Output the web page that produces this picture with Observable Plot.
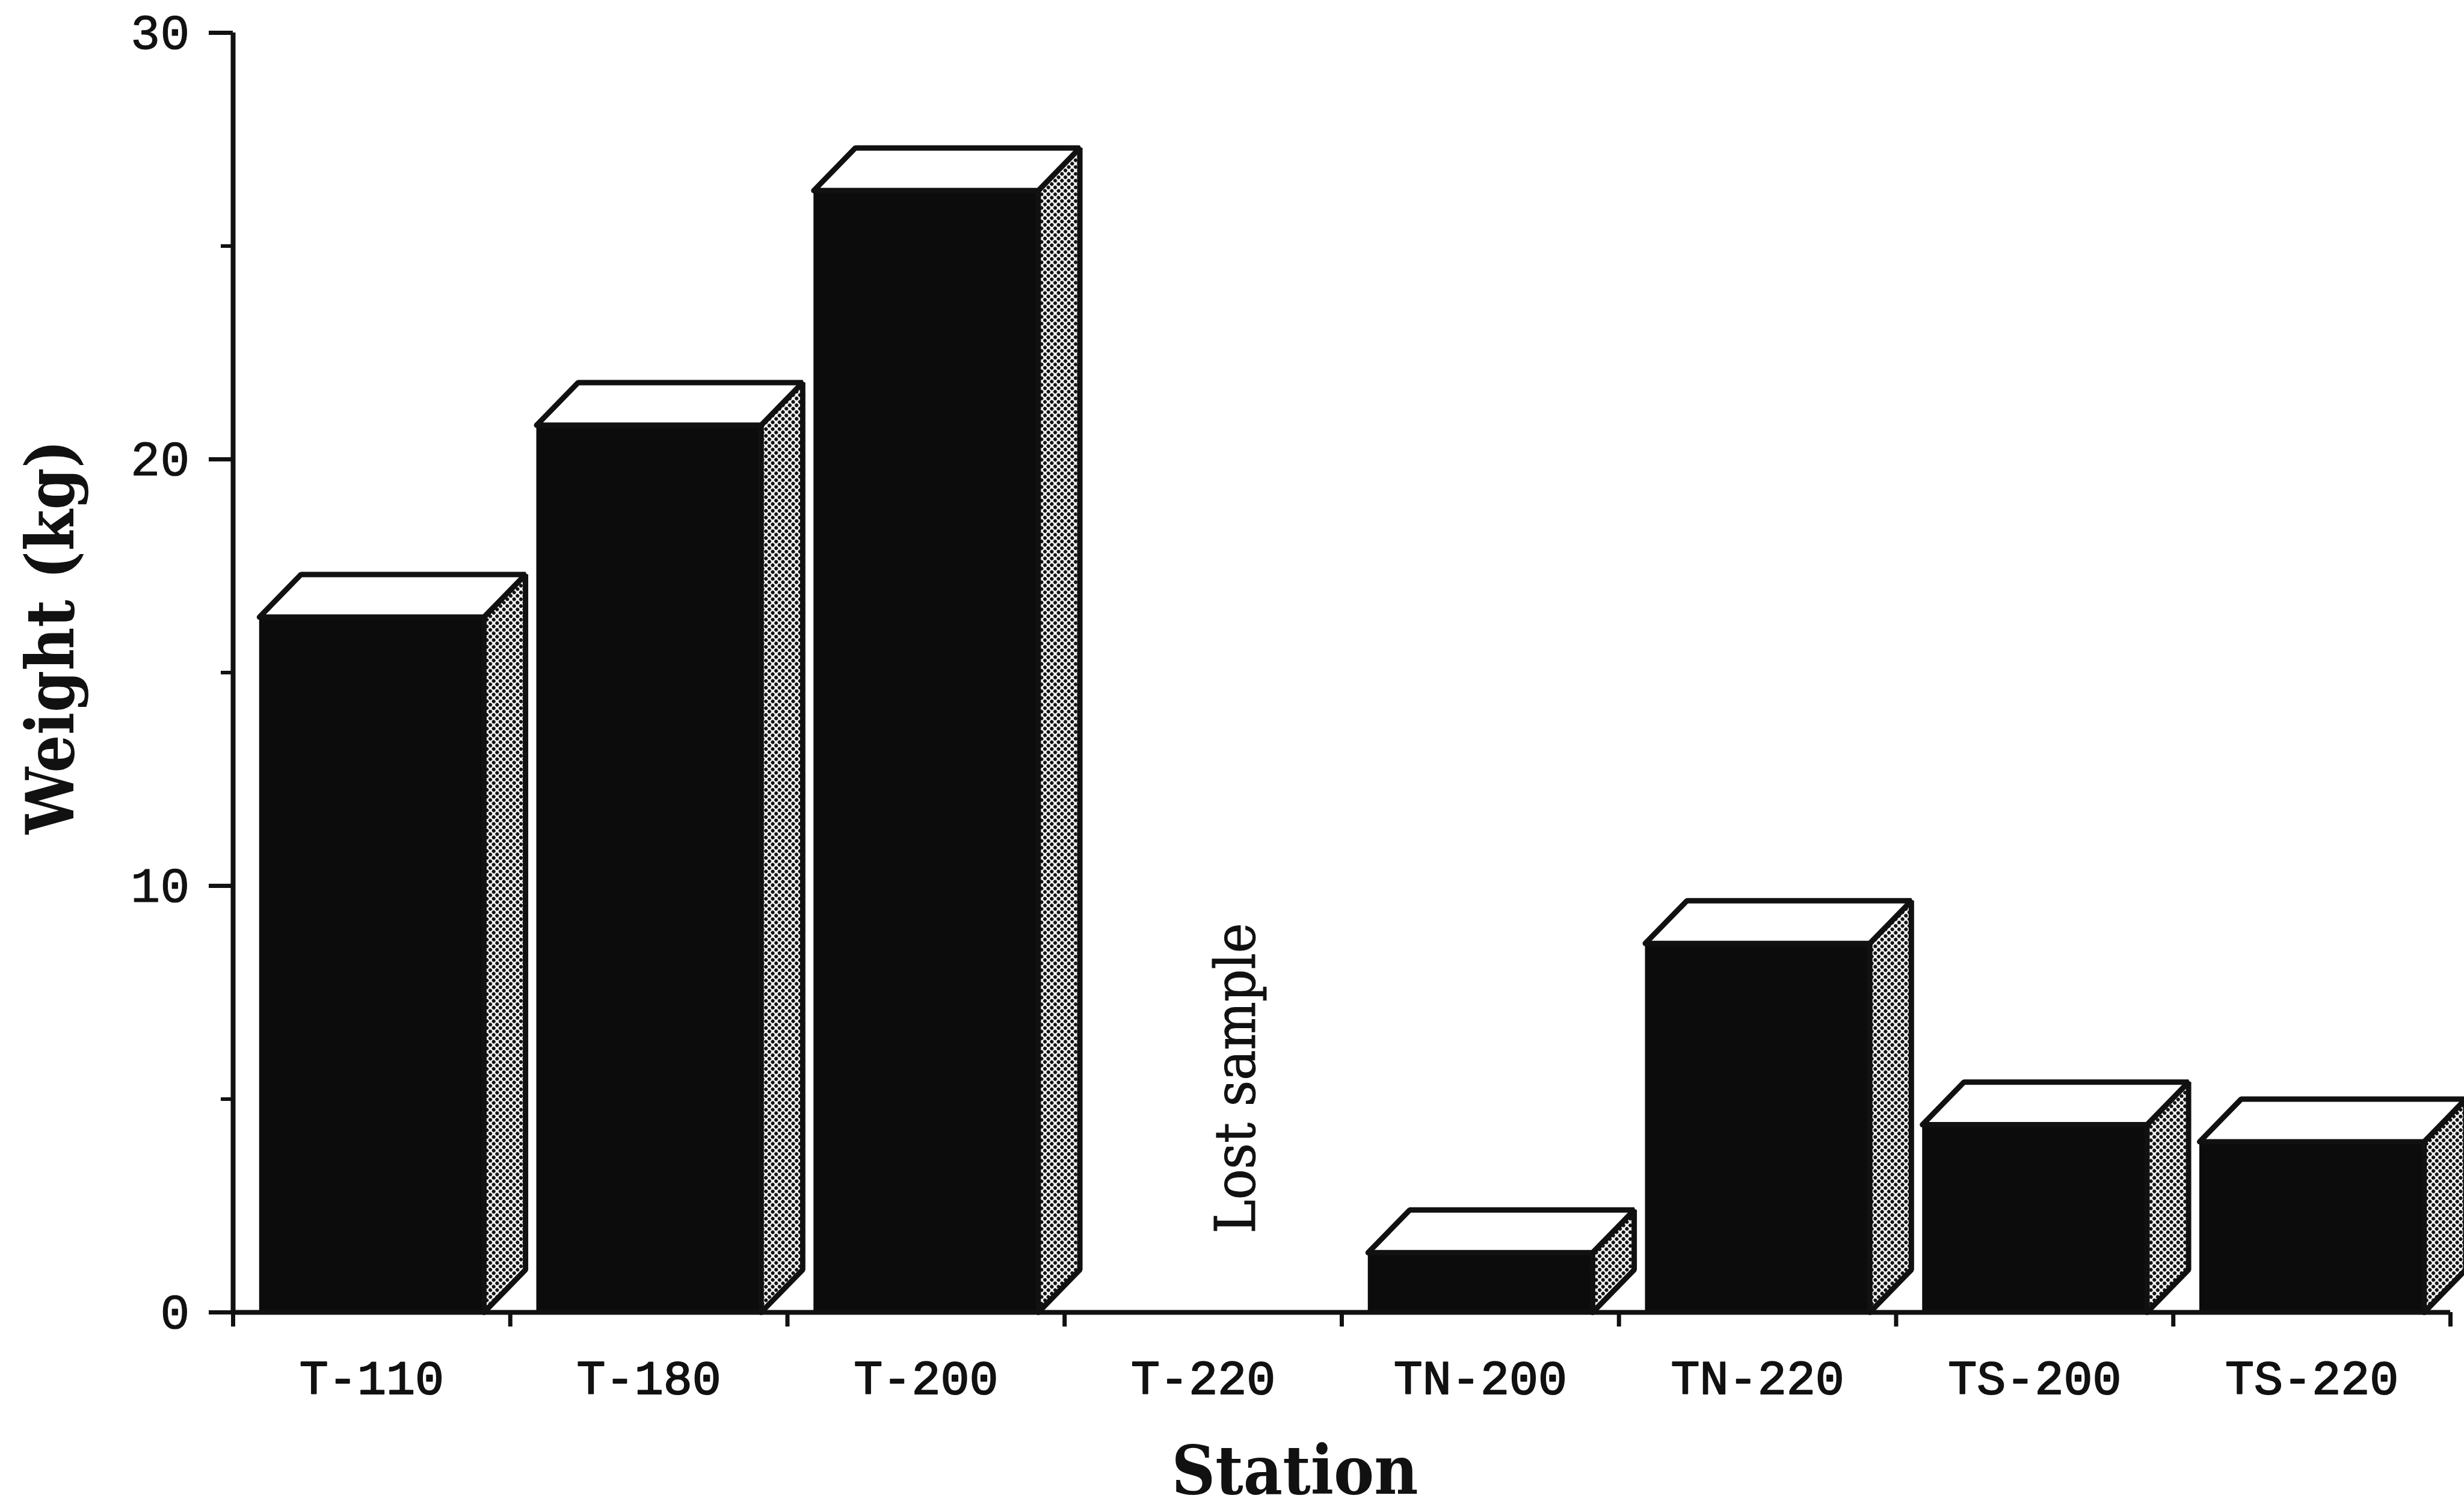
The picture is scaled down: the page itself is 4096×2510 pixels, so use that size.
<!DOCTYPE html>
<html><head><meta charset="utf-8">
<script src="https://cdn.jsdelivr.net/npm/d3@7"></script>
<script src="https://cdn.jsdelivr.net/npm/@observablehq/plot@0.6"></script>
<style>html,body{margin:0;padding:0;background:#fff;overflow:hidden;}</style>
</head><body><div id="chart"></div>
<script>
// ---- data ----
const stations = ["T-110", "T-180", "T-200", "T-220", "TN-200", "TN-220", "TS-200", "TS-220"];
const weights  = [16.3, 20.8, 26.3, null, 1.4, 8.65, 4.4, 4.0];
const yMajorTicks = [0, 10, 20, 30];
const yMinorTicks = [5, 15, 25];
const xTitle = "Station";
const yTitle = "Weight (kg)";
const notes = [{station: "T-220", text: "Lost sample"}];

// ---- geometry (data units of the linear scales) ----
const PAD = 0.095, DX = 0.15, DY = 1.0;
const INK = "#111";
const bars = stations.map((s, i) => ({station: s, i, value: weights[i]})).filter(d => d.value != null);
const poly = (id, pts) => pts.map(([x, y]) => ({id, x, y}));
const tops = bars.flatMap(d => {
  const x1 = d.i + PAD, x2 = d.i + 1 - PAD, v = d.value;
  return poly(d.station, [[x1, v], [x2, v], [x2 + DX, v + DY], [x1 + DX, v + DY], [x1, v]]);
});
const sides = bars.flatMap(d => {
  const x2 = d.i + 1 - PAD, v = d.value;
  return poly(d.station, [[x2, 0], [x2 + DX, DY], [x2 + DX, v + DY], [x2, v], [x2, 0]]);
});
const xEdges = d3.range(stations.length + 1);

const serif = "'DejaVu Serif Condensed', 'DejaVu Serif', serif";
const mono = "'Liberation Mono', 'DejaVu Sans Mono', monospace";

const svg = Plot.plot({
  width: 4096, height: 2510,
  marginLeft: 387, marginRight: 23, marginTop: 54, marginBottom: 329,
  style: {background: "white", overflow: "visible"},
  x: {domain: [0, stations.length], axis: null},
  y: {domain: [0, 30], axis: null},
  marks: [
    // bars: front, side, top
    Plot.rect(bars, {x1: d => d.i + PAD, x2: d => d.i + 1 - PAD, y1: 0, y2: "value", fill: "#0c0c0c"}),
    Plot.line(sides, {x: "x", y: "y", z: "id", fill: "url(#dots)", stroke: INK, strokeWidth: 9, strokeLinejoin: "miter"}),
    Plot.line(tops, {x: "x", y: "y", z: "id", fill: "white", stroke: INK, strokeWidth: 9, strokeLinejoin: "miter"}),
    // axes
    Plot.ruleX([0], {x: d => d, y1: 0, y2: 30, stroke: INK, strokeWidth: 8}),
    Plot.ruleY([0], {y: d => d, x1: 0, x2: stations.length, stroke: INK, strokeWidth: 8}),
    Plot.ruleY(yMajorTicks, {y: d => d, x1: 0, x2: 0, insetLeft: -40, insetRight: 0, stroke: INK, strokeWidth: 7}),
    Plot.ruleY(yMinorTicks, {y: d => d, x1: 0, x2: 0, insetLeft: -20, insetRight: 0, stroke: INK, strokeWidth: 6}),
    Plot.ruleX(xEdges, {x: d => d, y1: 0, y2: 0, insetTop: 0, insetBottom: -24, stroke: INK, strokeWidth: 7}),
    // tick labels
    Plot.text(yMajorTicks, {x: 0, y: d => d, text: d => String(d), textAnchor: "end", lineAnchor: "middle", dx: -72,
      fontFamily: mono, fontSize: 82, fill: INK, stroke: INK, strokeWidth: 1}),
    Plot.text(stations, {x: (d, i) => i + 0.5, y: 0, text: d => d, textAnchor: "middle", lineAnchor: "middle", dy: 110,
      fontFamily: mono, fontSize: 80, fill: INK, stroke: INK, strokeWidth: 2}),
    // annotation
    Plot.text(notes, {x: d => stations.indexOf(d.station) + 0.5, y: 0, text: "text", rotate: -90, textAnchor: "start",
      lineAnchor: "middle", dx: 56, dy: -131, fontFamily: serif, fontSize: 94, fill: INK, stroke: INK, strokeWidth: 1}),
    // titles
    Plot.text([xTitle], {frameAnchor: "bottom", text: d => d, textAnchor: "middle", lineAnchor: "middle", dx: -78, dy: 266,
      fontFamily: serif, fontSize: 112, fontWeight: "bold", fill: INK}),
    Plot.text([yTitle], {frameAnchor: "left", text: d => d, rotate: -90, textAnchor: "middle", lineAnchor: "middle", dx: -301, dy: -59,
      fontFamily: serif, fontSize: 110, fontWeight: "bold", fill: INK})
  ]
});

// halftone dot pattern for the side faces
const defs = d3.select(svg).insert("defs", ":first-child");
const pat = defs.append("pattern").attr("id", "dots").attr("patternUnits", "userSpaceOnUse")
  .attr("width", 8).attr("height", 8).attr("patternTransform", "rotate(45)");
pat.append("rect").attr("width", 8).attr("height", 8).attr("fill", "#fff");
pat.append("circle").attr("cx", 4).attr("cy", 4).attr("r", 3.1).attr("fill", "#111");

document.getElementById("chart").appendChild(svg);
</script>
</body></html>
